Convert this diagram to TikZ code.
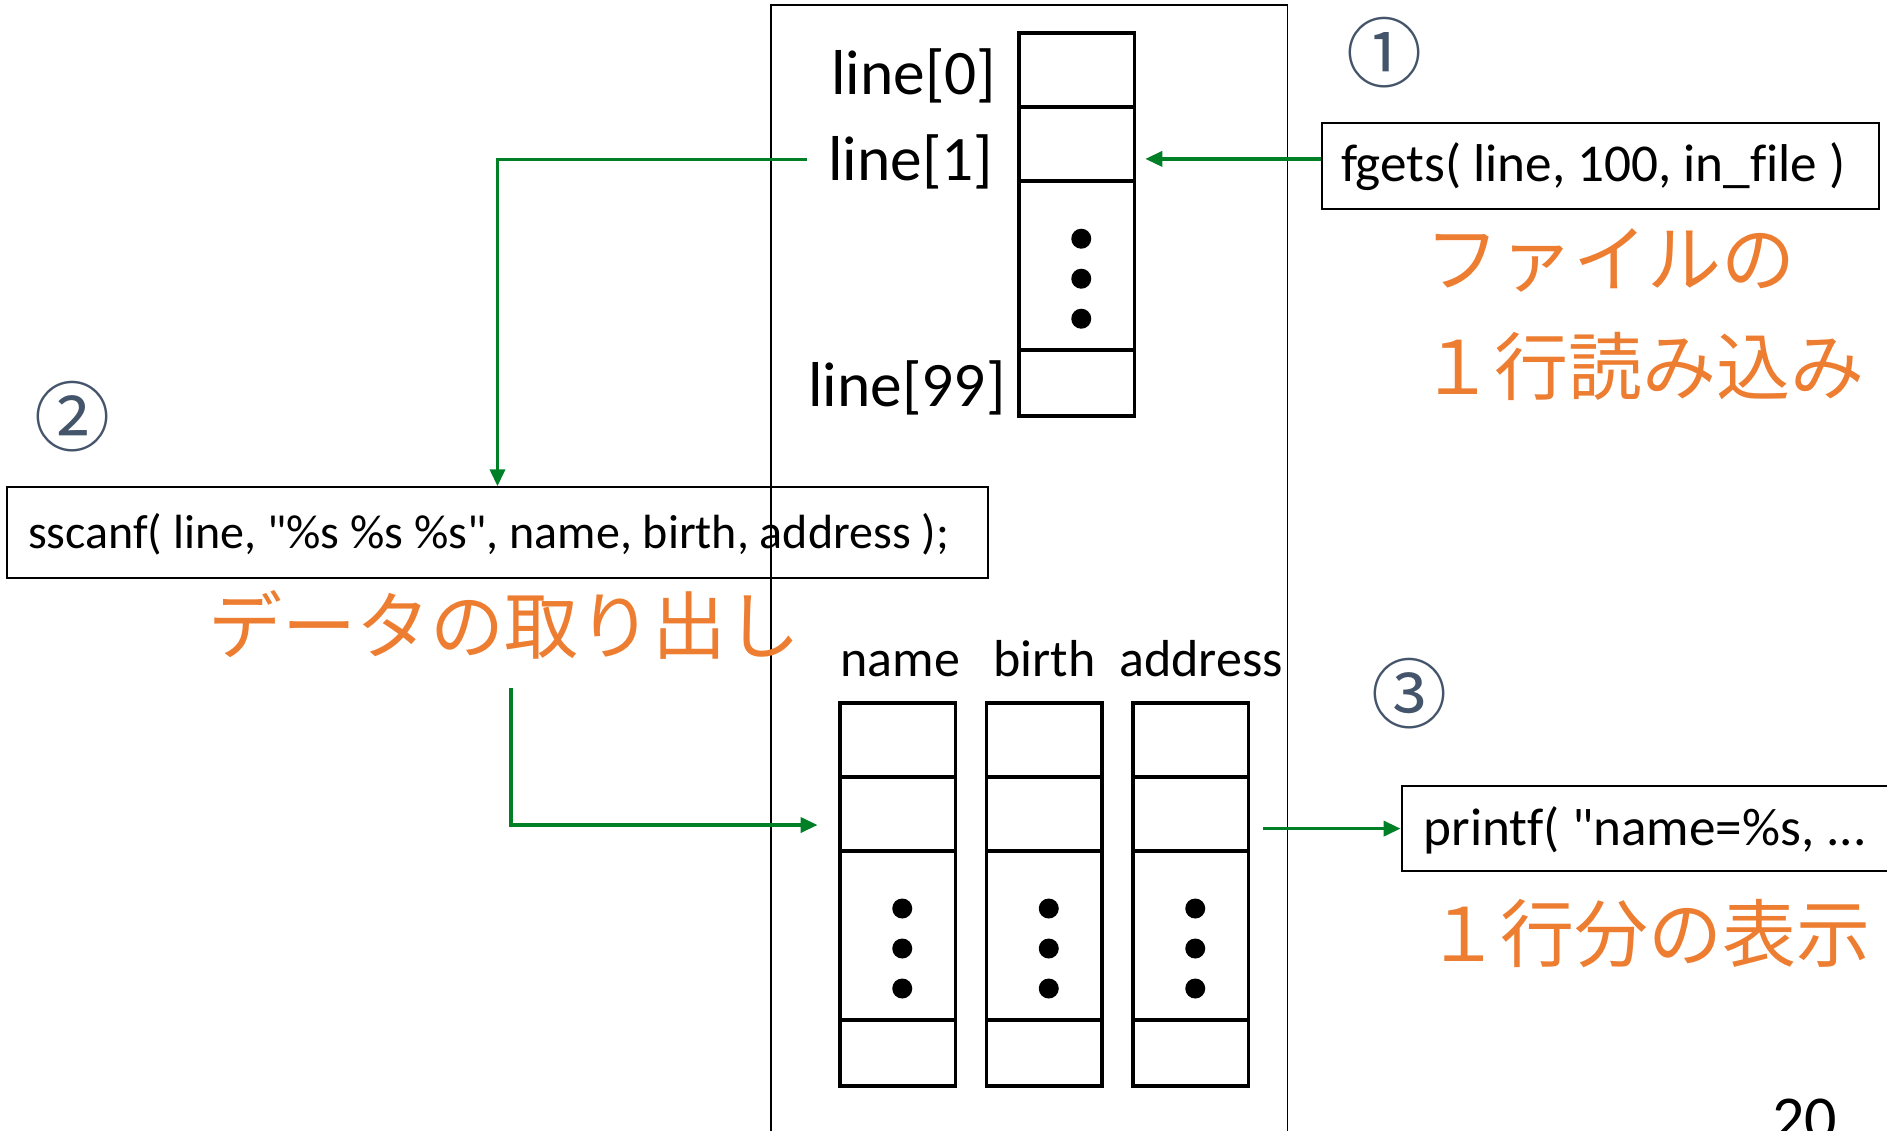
\documentclass[tikz,border=0pt]{standalone}
\usepackage{fontspec}
\setmainfont{Carlito}
\newfontfamily\codefont{Carlito}[Ligatures=NoCommon]
\newfontfamily\jpfont{Noto Sans CJK JP}
\usetikzlibrary{positioning,arrows.meta,calc}

\definecolor{flowgreen}{RGB}{0,128,38}
\definecolor{noteorange}{RGB}{237,125,49}
\definecolor{stepslate}{RGB}{68,84,106}

\tikzset{
  cell/.style={draw, line width=1.8pt, minimum width=57.75pt, inner sep=0pt, outer sep=0pt},
  codebox/.style={draw, line width=1pt, anchor=north west, inner ysep=0pt,
    font=\codefont\fontsize{26.6}{30}\selectfont},
  flow/.style={flowgreen, line width=1.8pt, -{Triangle[length=8.5pt,width=7.5pt]}},
  note/.style={noteorange, anchor=base west, inner sep=0pt, font=\jpfont\fontsize{37}{44}\selectfont},
  stepnum/.style={stepslate, inner sep=0pt, font=\jpfont\fontsize{38}{44}\selectfont},
  idx/.style={anchor=base west, inner sep=0pt, font=\fontsize{31.7}{36}\selectfont},
  field/.style={anchor=base west, inner sep=0pt, font=\fontsize{26}{30}\selectfont},
}

% one array: four cells stacked, dots in the long one
\newcommand{\arraycol}[2]{%
  \node[cell, minimum height=37pt, anchor=north west] (#1-0) at (#2) {};
  \node[cell, minimum height=37pt, below=0pt of #1-0] (#1-1) {};
  \node[cell, minimum height=84.5pt, below=0pt of #1-1] (#1-2) {};
  \node[cell, minimum height=33pt, below=0pt of #1-2] (#1-3) {};
  \foreach \dy in {13.5,-6.5,-26.5}
    \fill ($(#1-2.center)+(2.25pt,\dy pt)$) circle (5pt);
}

\begin{document}
\begin{tikzpicture}[x=0.5pt,y=-0.5pt]
    \useasboundingbox (0,0) rectangle (1887,1131);
    \clip (0,0) rectangle (1887,1131);

    % Frame round the memory
    \draw[line width=0.8pt] (770.7,5) rectangle (1287.4,1145);

    % The line buffer
    \arraycol{buf}{1019,33.2}
    \node[idx] (idx0) at (831,94) {line[0]};
    \node[idx] (idx1) at (828,180.5) {line[1]};
    \node[idx] (idx99) at (808,406) {line[99]};

    % The three field arrays
    \arraycol{name}{840,703}
    \arraycol{birth}{986.5,703}
    \arraycol{addr}{1133,703}
    \node[field] (lname) at (840,676) {name};
    \node[field] (lbirth) at (993,676) {birth};
    \node[field] (laddr) at (1119,676) {address};

    % Calls
    \node[codebox, inner xsep=9.75pt, text height=29.4pt, text depth=13.6pt]
        (fgets) at (1320.5,121.7) {\makebox[259.25pt][l]{fgets( line, 100, in\_file )}};
    \node[codebox, inner xsep=10.5pt, text height=30.35pt, text depth=14.8pt,
        font=\codefont\fontsize{24}{28}\selectfont]
        (sscanf) at (6,486.3) {\makebox[469.5pt][l]{sscanf( line, "\%s \%s \%s", name, birth, address );}};
    \node[codebox, inner xsep=11.1pt, text height=29.8pt, text depth=12.6pt]
        (printf) at (1400.6,785.2) {\makebox[252.5pt][l]{printf( "name=\%s, ...}};

    % Notes
    \node[note] (readnote1) at (1425,286) {ファイルの};
    \node[note] (readnote2) at (1420,394) {１行読み込み};
    \node[note] (extractnote) at (208,653) {データの取り出し};
    \node[note] (shownote) at (1426,961) {１行分の表示};

    % Step numbers
    \node[stepnum] (step1) at (1384,52.7) {①};
    \node[stepnum] (step2) at (72,417) {②};
    \node[stepnum] (step3) at (1409.6,694) {③};

    % Page number
    \node[anchor=base west, inner sep=0pt, font=\fontsize{32}{36}\selectfont] (pagenum) at (1772,1140) {20};

    % Arrows
    \draw[flow] ([yshift=3.4pt]fgets.west) -- ([xshift=5.4pt,yshift=3.4pt]fgets.west -| buf-1.east);
    \draw[flow] ([xshift=-10.65pt,yshift=10.6pt]idx1.base west) -| (sscanf.north);
    \coordinate (split) at (511,687.7);
    \draw[flow] (split) |- ([xshift=-11.2pt,yshift=-5.5pt]name-1.west);
    \draw[flow] ([xshift=7.25pt]printf.west -| addr-1.east) -- (printf.west);
\end{tikzpicture}
\end{document}
